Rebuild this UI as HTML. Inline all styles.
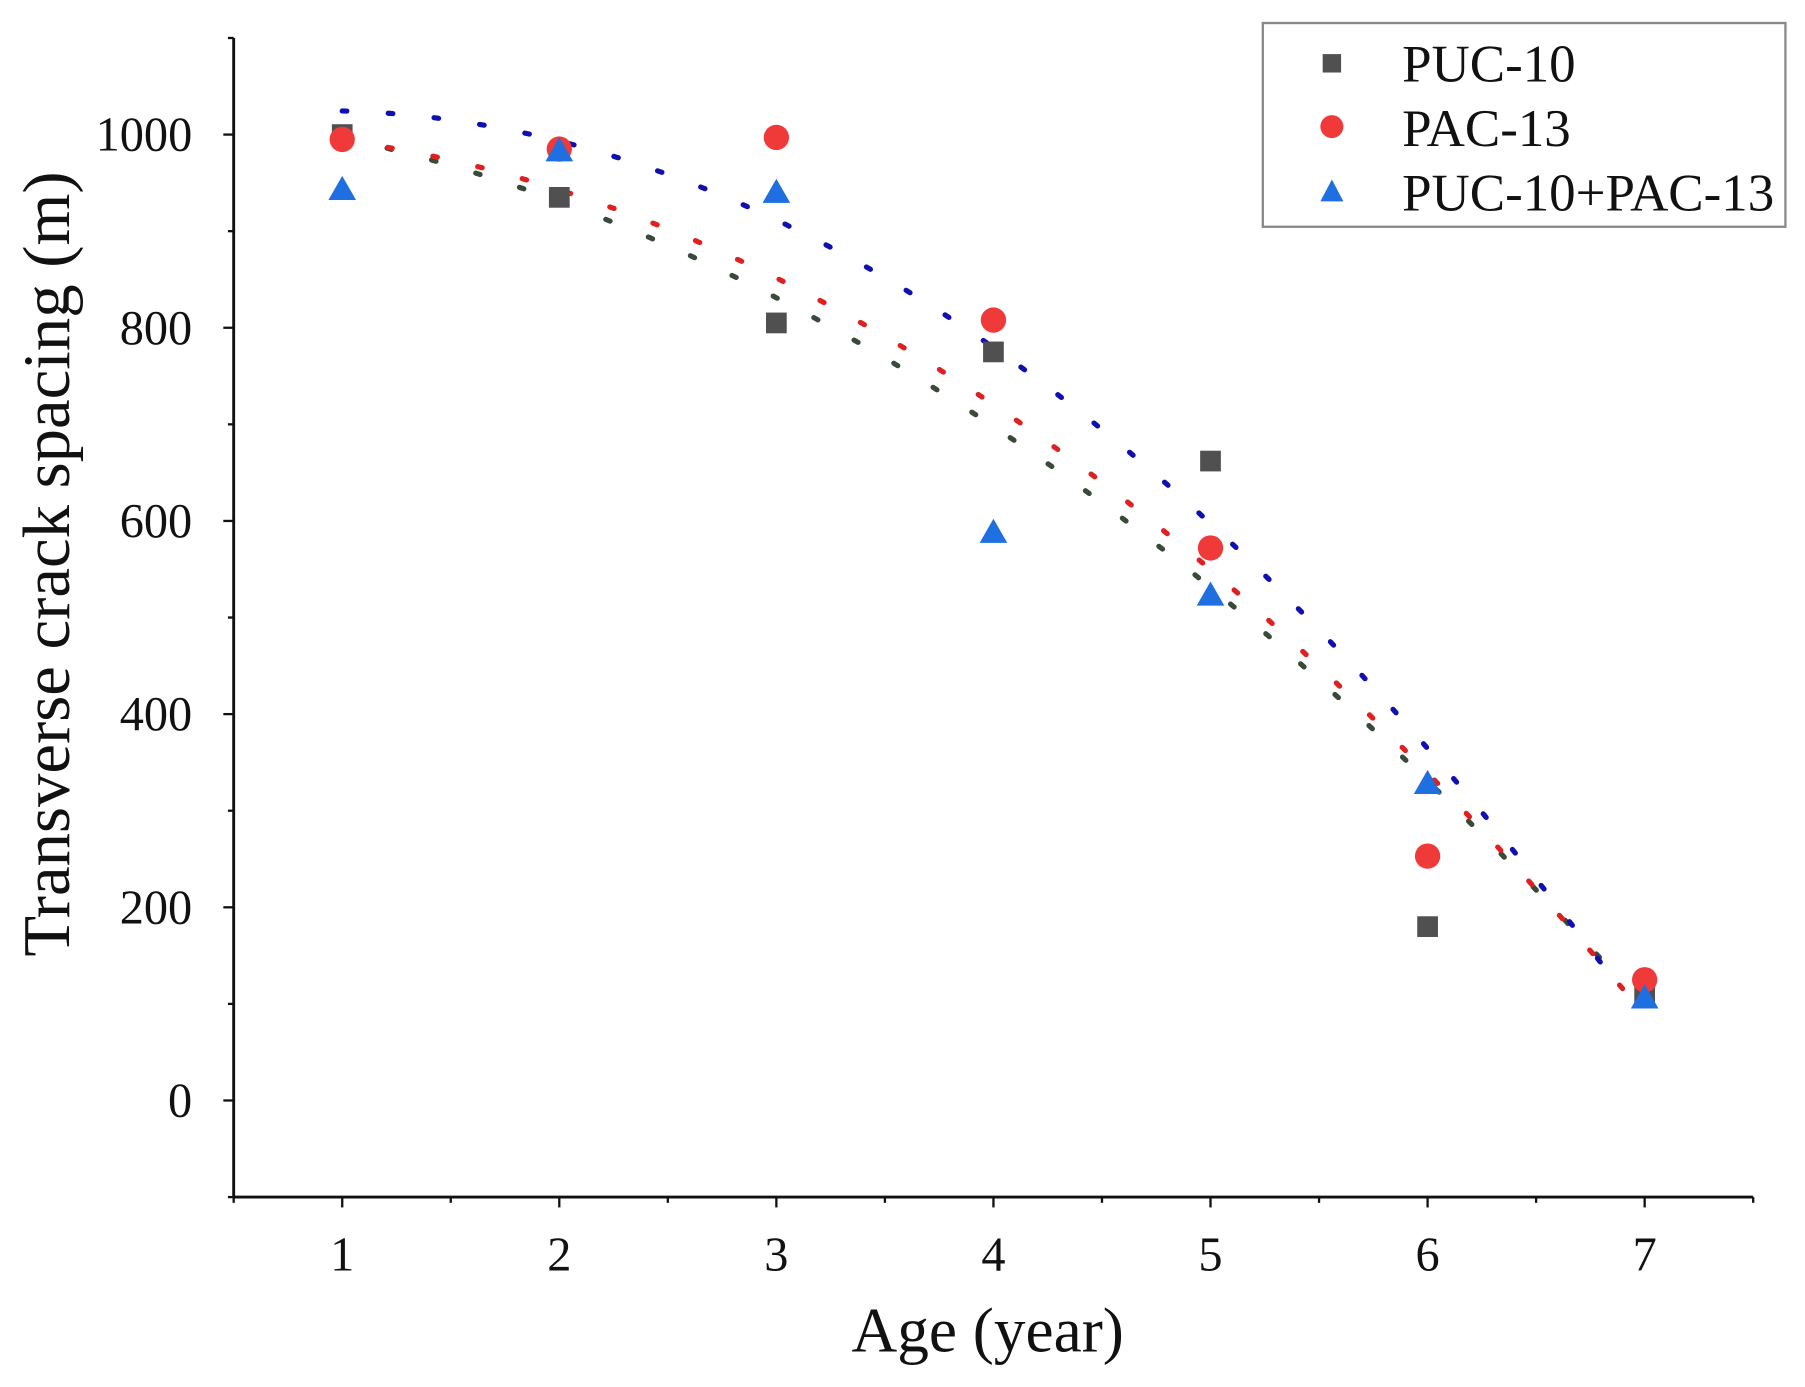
<!DOCTYPE html>
<html><head><meta charset="utf-8"><style>
html,body{margin:0;padding:0;background:#fff;}
svg{display:block;}
text{font-family:"Liberation Serif",serif;fill:#111;}
</style></head><body>
<svg id="chart" width="1805" height="1387" viewBox="0 0 1568 1205" preserveAspectRatio="none" xmlns="http://www.w3.org/2000/svg">
<g id="axes"></g>
<g id="fits"></g>
<g id="marks"></g>
<g id="legend">
<rect x="1097" y="20" width="454" height="177" fill="#fff" stroke="#888" stroke-width="2"/>
<rect x="1149" y="47" width="16" height="16" fill="#505050"/>
<text x="1218" y="71" font-size="46">PUC-10</text>
<circle cx="1157" cy="110" r="10" fill="#f03a3a"/>
<text x="1218" y="127" font-size="46">PAC-13</text>
<polygon points="1157,156 1167,175 1147,175" fill="#1f6fe0"/>
<text x="1218" y="183" font-size="46">PUC-10+PAC-13</text>
</g>
<text x="858" y="1174" font-size="55" text-anchor="middle">Age (year)</text>
<text transform="translate(60,490) rotate(-90)" font-size="58" text-anchor="middle">Transverse crack spacing (m)</text>
</svg>
<script>
const years = [1,2,3,4,5,6,7];
const puc10 = [1000,935,805,775,662,180,110];
const pac13 = [995,985,997,808,572,253,125];
const combined = [943,983,940,588,523,328,106];
const trendPuc10 = [990,940,835,695,525,330,100];
const trendPac13 = [990,945,860,718,548,330,95];
const trendCombined = [1020,995,920,780,595,352,90];
const xTicks = [1,2,3,4,5,6,7];
const yTicks = [0,200,400,600,800,1000];

const L=203,R=1523,T=33,B=1040, xmin=0.5,xmax=7.5,ymin=-100,ymax=1100;
const xs=v=>L+(v-xmin)/(xmax-xmin)*(R-L);
const ys=v=>B-(v-ymin)/(ymax-ymin)*(B-T);
const NS="http://www.w3.org/2000/svg";
function mk(tag,attrs,parent){const e=document.createElementNS(NS,tag);for(const k in attrs)e.setAttribute(k,attrs[k]);parent.appendChild(e);return e;}
const ax=document.getElementById('axes');
let e=mk('line',{x1:L,y1:T,x2:L,y2:B,stroke:'#111','stroke-width':2.5},ax);


e=mk('line',{x1:L,y1:B,x2:R,y2:B,stroke:'#111','stroke-width':2.5},ax);


for(let v=-100;v<=1100;v+=100){const maj=v%200===0;
 e=mk('line',{x1:L-(maj?9:5),x2:L,y1:ys(v),y2:ys(v),stroke:'#111','stroke-width':2},ax);
 
 }
yTicks.forEach(v=>{e=mk('text',{x:L-36,y:ys(v)+14,'font-size':42,'text-anchor':'end'},ax);e.textContent=v;
 
 });
for(let v=0.5;v<=7.5;v+=0.5){const maj=Number.isInteger(v);
 e=mk('line',{x1:xs(v),x2:xs(v),y1:B,y2:B+(maj?9:5),stroke:'#111','stroke-width':2},ax);
 
 }
xTicks.forEach(v=>{e=mk('text',{x:xs(v),y:B+64,'font-size':42,'text-anchor':'middle'},ax);e.textContent=v;
 
 });

function quadFit(x,y){let n=x.length,S=[0,0,0,0,0],Ty=[0,0,0];
 for(let i=0;i<n;i++){for(let p=0;p<5;p++)S[p]+=Math.pow(x[i],p);for(let p=0;p<3;p++)Ty[p]+=y[i]*Math.pow(x[i],p);}
 const A=[[S[0],S[1],S[2],Ty[0]],[S[1],S[2],S[3],Ty[1]],[S[2],S[3],S[4],Ty[2]]];
 for(let i=0;i<3;i++){for(let j=i+1;j<3;j++){const f=A[j][i]/A[i][i];for(let k=i;k<4;k++)A[j][k]-=f*A[i][k];}}
 const c=[0,0,0];for(let i=2;i>=0;i--){let s=A[i][3];for(let k=i+1;k<3;k++)s-=A[i][k]*c[k];c[i]=s/A[i][i];}return c;}
const fits=document.getElementById('fits');
[[trendPuc10,'#3a4a3a','fit-puc10'],[trendPac13,'#e02020','fit-pac13'],[trendCombined,'#1010b0','fit-combined']].forEach(([d,col,nm])=>{
 const c=quadFit(years,d);let pts=[];for(let t=1;t<=6.9001;t+=0.02)pts.push(xs(t).toFixed(1)+','+ys(c[0]+c[1]*t+c[2]*t*t).toFixed(1));
 const p=mk('polyline',{points:pts.join(' '),fill:'none',stroke:col,'stroke-width':4.5,'stroke-dasharray':'4 36','stroke-linecap':'round'},fits);
 
 });
const mg=document.getElementById('marks');
years.forEach((x,i)=>{
 let m=mk('rect',{x:xs(x)-9,y:ys(puc10[i])-9,width:18,height:18,fill:'#505050'},mg);
 
 });
years.forEach((x,i)=>{
 let m=mk('circle',{cx:xs(x),cy:ys(pac13[i]),r:11,fill:'#f03a3a'},mg);
 
 });
years.forEach((x,i)=>{const cx=xs(x),cy=ys(combined[i]);
 let m=mk('polygon',{points:`${cx},${cy-12} ${cx+12},${cy+9} ${cx-12},${cy+9}`,fill:'#1f6fe0'},mg);
 
 });
</script>
</body></html>
